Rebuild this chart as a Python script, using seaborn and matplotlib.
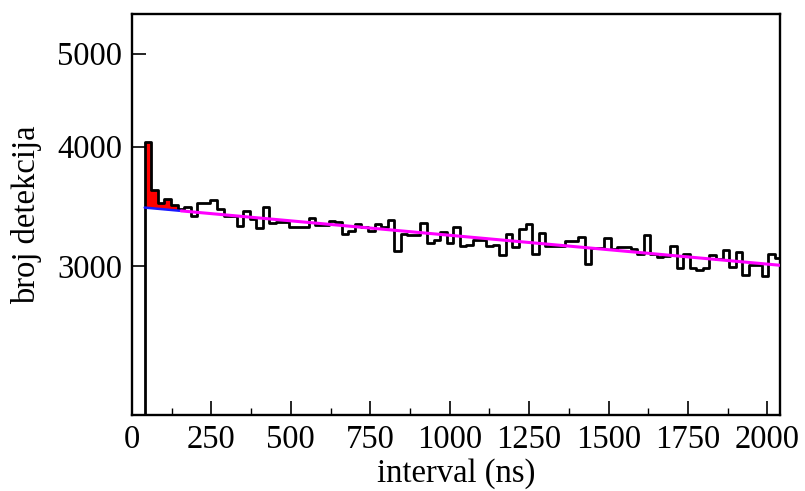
import numpy as np
import pandas as pd
import matplotlib
matplotlib.use("Agg")
import matplotlib.pyplot as plt
import seaborn as sns
from matplotlib.ticker import FixedLocator, NullLocator, FixedFormatter, MultipleLocator

# ---- data ----
hist_start = 40.0          # ns, left edge of first bin
bin_width = 20.67          # ns
counts = [4049, 3602, 3495, 3523, 3473, 3447, 3458, 3387, 3495, 3495,
          3516, 3447, 3387, 3387, 3305, 3430, 3358, 3290, 3458, 3330,
          3341, 3341, 3300, 3300, 3300, 3370, 3310, 3310, 3344, 3335,
          3245, 3266, 3324, 3300, 3266, 3324, 3295, 3355, 3114, 3245,
          3238, 3238, 3328, 3175, 3195, 3260, 3177, 3298, 3153, 3155,
          3200, 3200, 3150, 3155, 3082, 3240, 3142, 3285, 3320, 3090,
          3250, 3151, 3151, 3151, 3189, 3189, 3218, 3018, 3132, 3136,
          3213, 3125, 3145, 3140, 3130, 3093, 3235, 3089, 3072, 3077,
          3151, 2986, 3089, 2986, 2972, 2986, 3085, 3053, 3117, 2997,
          3105, 2938, 3013, 3013, 2930, 3089, 3058]

# exponential background fit, given by its value at both ends of the range
fit_t0, fit_n0 = 40.0, 3455.0
fit_t1, fit_n1 = 2040.0, 3008.0
fit_split = 155.0          # blue part of the fit / red excess ends here

x_ticks = [0, 250, 500, 750, 1000, 1250, 1500, 1750, 2000]
y_ticks = [3000, 4000, 5000]
y_tick_labels = ["3000", "4000", "5000"]
x_lim = (0, 2040)
y_lim = (2100, 5500)

# ---- figure ----
sns.set_theme(style="white")
plt.rcParams['font.family'] = ['Liberation Serif', 'DejaVu Serif']
plt.rcParams['text.color'] = 'black'
plt.rcParams['axes.labelcolor'] = 'black'
plt.rcParams['xtick.color'] = 'black'
plt.rcParams['ytick.color'] = 'black'

fig = plt.figure(figsize=(8.05, 4.91), dpi=100)
ax = fig.add_axes([0.164, 0.155, 0.805, 0.8165])

edges = [hist_start + bin_width * i for i in range(len(counts) + 1)]
centers = [0.5 * (edges[i] + edges[i + 1]) for i in range(len(counts))]
df = pd.DataFrame({"interval": centers, "count": counts})

tau = (fit_t1 - fit_t0) / np.log(fit_n0 / fit_n1)
def fit(t):
    return fit_n0 * np.exp(-(np.asarray(t) - fit_t0) / tau)

# red excess above the fit
xs = np.linspace(hist_start, fit_split, 400)
idx = np.clip(np.searchsorted(edges, xs, side="right") - 1, 0, len(counts) - 1)
ys = np.asarray(counts, float)[idx]
ax.fill_between(xs, fit(xs), ys, where=ys > fit(xs), color="#ff0000",
                linewidth=0, zorder=1)

# histogram outline
sns.histplot(data=df, x="interval", weights="count", bins=edges,
             element="step", fill=False, color="black", linewidth=2.0,
             ax=ax, zorder=2)
ax.vlines(edges[0], y_lim[0], counts[0], color="black", linewidth=2.0, zorder=2)

# fit lines
xb = np.linspace(fit_t0, fit_split, 50)
xm = np.linspace(fit_split, fit_t1, 200)
sns.lineplot(x=xb, y=fit(xb), color="#1a1aff", linewidth=1.8, ax=ax, zorder=3)
sns.lineplot(x=xm, y=fit(xm), color="#ff00ff", linewidth=2.2, ax=ax, zorder=3)

ax.set_yscale("log")
ax.set_xlim(*x_lim)
ax.set_ylim(*y_lim)
ax.yaxis.set_major_locator(FixedLocator(y_ticks))
ax.yaxis.set_major_formatter(FixedFormatter(y_tick_labels))
ax.yaxis.set_minor_locator(NullLocator())
ax.xaxis.set_major_locator(FixedLocator(x_ticks))
ax.xaxis.set_minor_locator(MultipleLocator(125))

ax.tick_params(which="both", direction="in", bottom=True, left=True,
               top=False, right=False, labelsize=23.5, width=1.2, pad=7)
ax.tick_params(which="major", length=10)
ax.tick_params(which="minor", length=5, width=1.0)

ax.set_xlabel("interval (ns)", fontsize=23.5, labelpad=2)
ax.set_ylabel("broj detekcija", fontsize=23.5, labelpad=11)

for s in ax.spines.values():
    s.set_color("black")
    s.set_linewidth(1.7)
    s.set_visible(True)

fig.savefig("out.png", dpi=100)
